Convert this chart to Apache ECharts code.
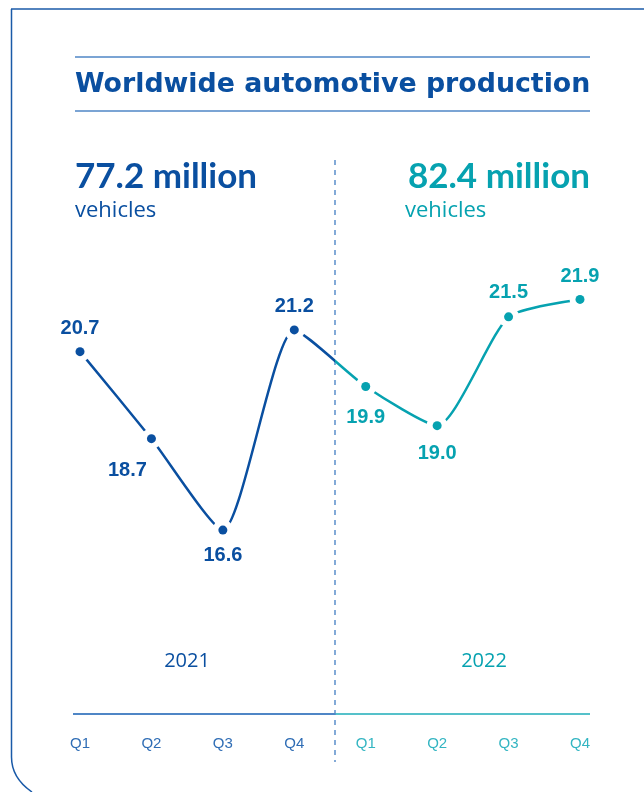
<!DOCTYPE html>
<html><head><meta charset="utf-8">
<script src="https://cdn.jsdelivr.net/npm/echarts@6/dist/echarts.min.js"></script>
<style>html,body{margin:0;padding:0;background:#fff}#c{width:644px;height:792px}</style>
</head><body><div id="c"></div>
<script>
const categories = ['2021 Q1','2021 Q2','2021 Q3','2021 Q4','2022 Q1','2022 Q2','2022 Q3','2022 Q4'];
const tickLabels = ['Q1','Q2','Q3','Q4','Q1','Q2','Q3','Q4'];
const production = [20.7, 18.7, 16.6, 21.2, 19.9, 19.0, 21.5, 21.9];
const years = ['2021', '2022'];
const totals = ['77.2 million', '82.4 million'];
const title = 'Worldwide automotive production';

const BLUE = '#0a4fa0', TEAL = '#06a2b0';
const BLUE_L = '#2f6db5', TEAL_L = '#33b5c2';
const LINE_B = '#4f86c6', LINE_T = '#55c1ca';
const SPLIT = 335 / 644;
const labelPos = [
  {position:'top', offset:[0,-4]},
  {position:'bottom', offset:[-24,12]},
  {position:'bottom', offset:[0,6]},
  {position:'top', offset:[0,-4]},
  {position:'bottom', offset:[0,12]},
  {position:'bottom', offset:[0,8]},
  {position:'top', offset:[0,-5]},
  {position:'top', offset:[0,-3]}
];
const chart = echarts.init(document.getElementById('c'), null, {renderer:'canvas'});
const dataItems = production.map((v,i)=>({
  value: v,
  itemStyle: {color: i < 4 ? BLUE : TEAL, opacity: 1},
  label: Object.assign({color: i < 4 ? BLUE : TEAL}, labelPos[i])
}));
chart.setOption({
  animation: false,
  grid: {left: 80, right: 64, top: 208, bottom: 78},
  xAxis: {
    type: 'category', data: categories, boundaryGap: false,
    axisLine: {show: false}, axisTick: {show: false},
    axisLabel: {
      margin: 22, fontSize: 15, fontFamily: 'Liberation Sans, Arial',
      formatter: (v, i) => tickLabels[i],
      color: (v, i) => (i < 4 ? BLUE_L : TEAL_L)
    },
    splitLine: {show: false}
  },
  yAxis: {type: 'value', min: 12.375, max: 24, show: false, splitLine: {show:false}},
  series: [
    {type: 'line', data: production, smooth: 0.2, showSymbol: false, z: 2,
     lineStyle: {width: 2.5, color: {type: 'linear', x: 0, y: 0, x2: 644, y2: 0, global: true,
       colorStops: [{offset: 0, color: BLUE}, {offset: SPLIT, color: BLUE},
                    {offset: SPLIT, color: TEAL}, {offset: 1, color: TEAL}]}}},
    {type: 'scatter', data: production, symbol: 'circle', symbolSize: 21,
     itemStyle: {color: '#ffffff', opacity: 1}, z: 5, silent: true},
    {type: 'scatter', data: dataItems, symbol: 'circle', symbolSize: 9, z: 6,
     itemStyle: {opacity: 1},
     label: {show: true, fontSize: 20, fontWeight: 'bold', fontFamily: 'Liberation Sans, Arial',
             formatter: p => p.value.toFixed(1)}}
  ],
  graphic: [
    {type: 'line', shape: {x1: 11, y1: 9, x2: 644, y2: 9}, style: {stroke: '#1a5aa8', lineWidth: 1.5}},
    {type: 'line', shape: {x1: 11.5, y1: 9, x2: 11.5, y2: 757}, style: {stroke: '#1a5aa8', lineWidth: 1.5}},
    {type: 'bezierCurve', shape: {x1: 11.5, y1: 757, cpx1: 11.5, cpy1: 778, x2: 32, y2: 792}, style: {stroke: '#1a5aa8', lineWidth: 1.5, fill: null}},
    {type: 'line', shape: {x1: 75, y1: 57, x2: 590, y2: 57}, style: {stroke: LINE_B, lineWidth: 1.3}},
    {type: 'line', shape: {x1: 75, y1: 111, x2: 590, y2: 111}, style: {stroke: LINE_B, lineWidth: 1.3}},
    {type: 'text', x: 75, y: 85, style: {text: title, fill: BLUE, font: 'bold 26.8px "DejaVu Sans", sans-serif', verticalAlign: 'middle'}},
    {type: 'text', x: 75, y: 177, style: {text: totals[0], fill: BLUE, font: 'bold 35px Lato, sans-serif', verticalAlign: 'middle'}},
    {type: 'text', x: 75, y: 211, style: {text: 'vehicles', fill: BLUE, font: '22px "Open Sans", sans-serif', verticalAlign: 'middle'}},
    {type: 'text', x: 590, y: 177, style: {text: totals[1], fill: TEAL, font: 'bold 35px Lato, sans-serif', verticalAlign: 'middle', align: 'right'}},
    {type: 'text', x: 405, y: 211, style: {text: 'vehicles', fill: TEAL, font: '22px "Open Sans", sans-serif', verticalAlign: 'middle'}},
    {type: 'text', x: 187, y: 661, style: {text: years[0], fill: BLUE, font: '20px "Open Sans", sans-serif', align: 'center', verticalAlign: 'middle'}},
    {type: 'text', x: 484, y: 661, style: {text: years[1], fill: TEAL, font: '20px "Open Sans", sans-serif', align: 'center', verticalAlign: 'middle'}},
    {type: 'line', z: 1, shape: {x1: 335, y1: 160, x2: 335, y2: 762}, style: {stroke: LINE_B, lineWidth: 1.4, lineDash: [5, 5]}},
    {type: 'line', shape: {x1: 73, y1: 714, x2: 335, y2: 714}, style: {stroke: LINE_B, lineWidth: 2}},
    {type: 'line', shape: {x1: 335, y1: 714, x2: 590, y2: 714}, style: {stroke: LINE_T, lineWidth: 2}}
  ]
});
</script></body></html>
